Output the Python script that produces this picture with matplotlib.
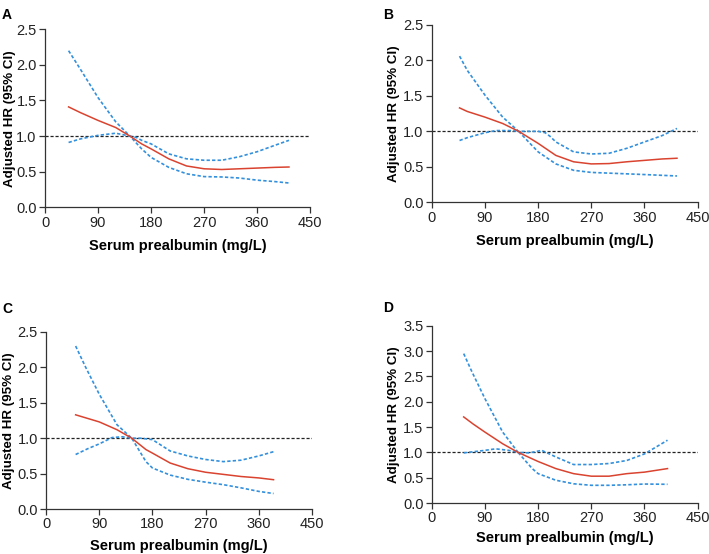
import numpy as np
import matplotlib.pyplot as plt

plt.rcParams['font.family'] = ['Liberation Sans', 'DejaVu Sans']

# ---- panel A ----
a_x = [40, 60, 90, 120, 144, 164, 180, 210, 240, 270, 300, 330, 360, 390, 414]
a_hr = [1.41, 1.33, 1.22, 1.12, 1.00, 0.89, 0.82, 0.68, 0.58, 0.54, 0.53, 0.54, 0.55, 0.56, 0.565]
a_up_x = [40, 60, 90, 120, 144, 155, 164, 180, 210, 240, 270, 300, 330, 360, 390, 414]
a_up = [2.20, 1.94, 1.54, 1.20, 1.00, 0.98, 0.94, 0.89, 0.75, 0.68, 0.66, 0.66, 0.71, 0.78, 0.87, 0.94]
a_lo_x = [40, 60, 90, 120, 144, 164, 180, 210, 240, 270, 300, 330, 360, 390, 414]
a_lo = [0.91, 0.96, 1.01, 1.04, 1.00, 0.82, 0.70, 0.56, 0.47, 0.43, 0.425, 0.41, 0.38, 0.36, 0.34]

# ---- panel B ----
b_x = [47, 60, 90, 120, 147, 180, 210, 240, 270, 300, 330, 360, 390, 415]
b_hr = [1.33, 1.28, 1.20, 1.11, 1.00, 0.83, 0.66, 0.57, 0.54, 0.545, 0.57, 0.59, 0.61, 0.62]
b_up_x = [47, 60, 90, 120, 147, 165, 180, 192, 200, 210, 240, 270, 300, 330, 360, 390, 415]
b_up = [2.06, 1.86, 1.51, 1.20, 1.00, 1.00, 1.00, 0.98, 0.93, 0.85, 0.71, 0.68, 0.69, 0.76, 0.85, 0.94, 1.04]
b_lo_x = [47, 60, 90, 108, 133, 147, 165, 180, 210, 240, 270, 300, 330, 360, 415]
b_lo = [0.87, 0.91, 0.98, 1.01, 1.01, 1.00, 0.84, 0.71, 0.54, 0.45, 0.42, 0.41, 0.40, 0.39, 0.37]

# ---- panel C ----
c_x = [50, 70, 90, 120, 145, 169, 180, 210, 240, 270, 300, 330, 360, 385]
c_hr = [1.33, 1.28, 1.23, 1.12, 1.00, 0.84, 0.79, 0.65, 0.57, 0.52, 0.49, 0.46, 0.44, 0.415]
c_up_x = [50, 67, 90, 120, 145, 160, 180, 195, 210, 240, 270, 300, 330, 360, 385]
c_up = [2.30, 2.00, 1.62, 1.19, 1.00, 1.00, 0.98, 0.90, 0.82, 0.75, 0.70, 0.67, 0.69, 0.75, 0.81]
c_lo_x = [50, 70, 90, 112, 129, 145, 169, 180, 210, 240, 270, 300, 330, 360, 385]
c_lo = [0.77, 0.85, 0.92, 1.01, 1.02, 1.00, 0.67, 0.58, 0.48, 0.42, 0.38, 0.345, 0.30, 0.25, 0.22]

# ---- panel D ----
d_x = [54, 70, 90, 120, 146, 180, 210, 240, 270, 300, 330, 360, 399]
d_hr = [1.70, 1.56, 1.40, 1.17, 1.00, 0.82, 0.68, 0.58, 0.53, 0.53, 0.58, 0.61, 0.68]
d_up_x = [54, 68, 90, 120, 146, 165, 186, 210, 240, 270, 300, 330, 360, 399]
d_up = [2.95, 2.59, 2.06, 1.40, 1.00, 0.99, 1.04, 0.91, 0.76, 0.76, 0.78, 0.84, 0.97, 1.24]
d_lo_x = [54, 90, 108, 130, 146, 170, 180, 210, 240, 270, 300, 330, 360, 399]
d_lo = [0.99, 1.04, 1.07, 1.04, 1.00, 0.68, 0.58, 0.45, 0.38, 0.35, 0.35, 0.36, 0.375, 0.37]

panels = [
    ('A', [0.0635, 0.626, 0.374, 0.321], 2.5, -0.108, -0.18, a_x, a_hr, a_up_x, a_up, a_lo_x, a_lo),
    ('B', [0.609, 0.635, 0.375, 0.320], 2.5, -0.118, -0.18, b_x, b_hr, b_up_x, b_up, b_lo_x, b_lo),
    ('C', [0.065, 0.081, 0.375, 0.320], 2.5, -0.118, -0.168, c_x, c_hr, c_up_x, c_up, c_lo_x, c_lo),
    ('D', [0.609, 0.092, 0.375, 0.320], 3.5, -0.118, -0.16, d_x, d_hr, d_up_x, d_up, d_lo_x, d_lo),
]

red = '#d9432f'
blue = '#3390dc'

fig = plt.figure(figsize=(7.09, 5.54), dpi=100)

for letter, rect, ymax, ylx, xly, x, hr, ux, up, lx, lo in panels:
    ax = fig.add_axes(rect)
    ax.axhline(1.0, color='#222222', lw=0.9, ls=(0, (2.5, 1.5)), zorder=1)
    ax.plot(ux, up, color=blue, lw=1.2, ls=(0, (2, 1.3)), zorder=2)
    ax.plot(lx, lo, color=blue, lw=1.2, ls=(0, (2, 1.3)), zorder=2)
    ax.plot(x, hr, color=red, lw=1.1, zorder=3)
    ax.set_xlim(0, 450)
    ax.set_ylim(0, ymax)
    ax.set_xticks([0, 90, 180, 270, 360, 450])
    ax.set_yticks(np.arange(0, ymax + 0.01, 0.5))
    ax.yaxis.set_major_formatter(plt.FormatStrFormatter('%.1f'))
    ax.spines['top'].set_visible(False)
    ax.spines['right'].set_visible(False)
    for s in ['left', 'bottom']:
        ax.spines[s].set_linewidth(0.9)
        ax.spines[s].set_color('#333333')
    ax.tick_params(direction='out', length=4, width=0.9, labelsize=10.5, colors='#333333',
                   labelcolor='#222222', pad=2)
    ax.set_xlabel('Serum prealbumin (mg/L)', fontsize=10.5, fontweight='bold')
    ax.set_ylabel('Adjusted HR (95% CI)', fontsize=9.6, fontweight='bold')
    ax.xaxis.set_label_coords(0.5, xly)
    ax.yaxis.set_label_coords(ylx, 0.5)

fig.text(0.003, 0.985, 'A', fontsize=10, fontweight='bold', va='top')
fig.text(0.540, 0.985, 'B', fontsize=10, fontweight='bold', va='top')
fig.text(0.003, 0.455, 'C', fontsize=10, fontweight='bold', va='top')
fig.text(0.540, 0.457, 'D', fontsize=10, fontweight='bold', va='top')

fig.savefig('out.png', dpi=100)
